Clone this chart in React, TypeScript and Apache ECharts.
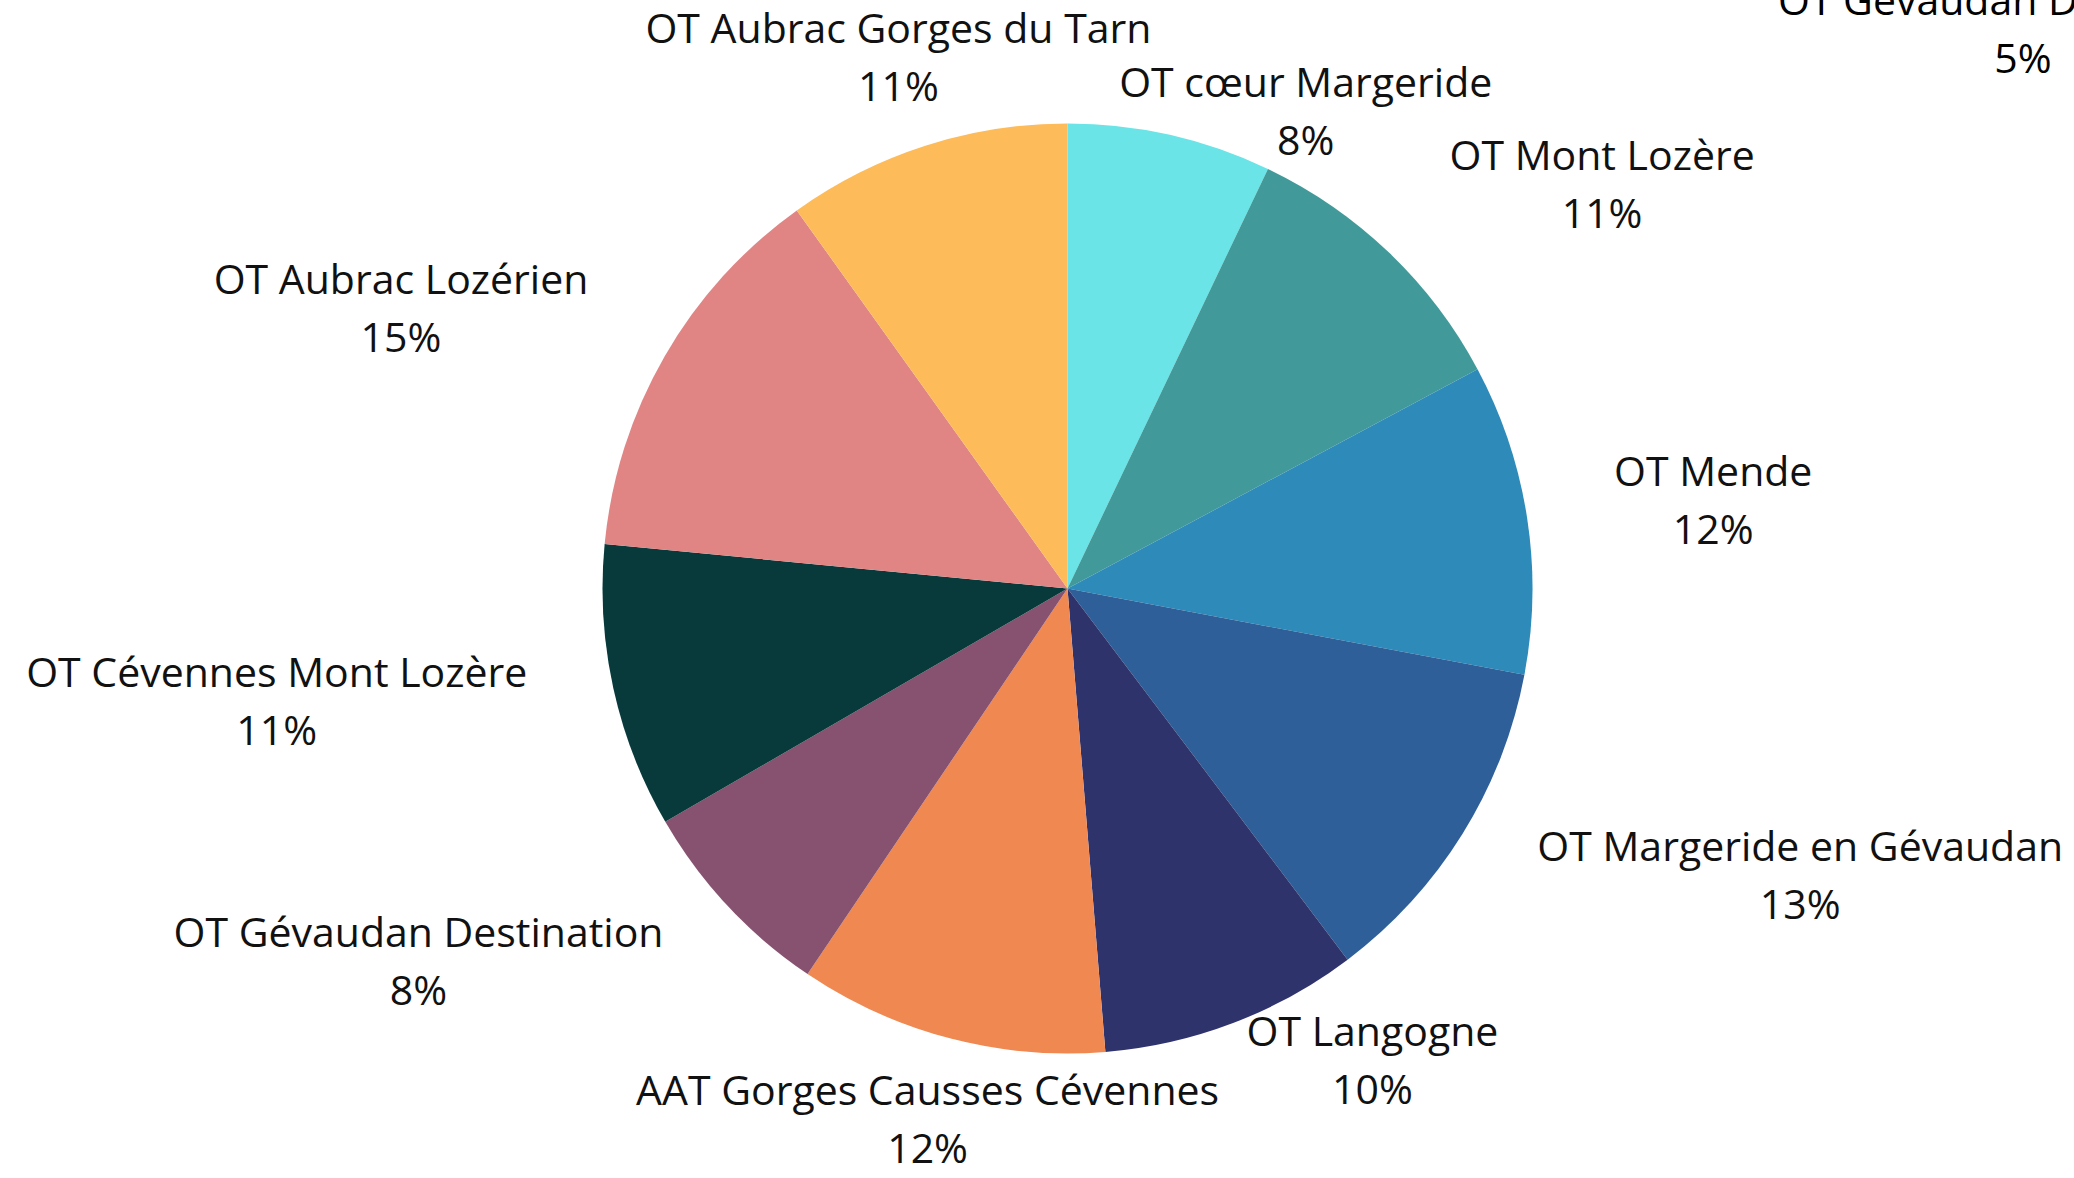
import React, { useEffect, useRef } from 'react';
import * as echarts from 'echarts';

// Slice names (clockwise from 12 o'clock)
const categories = [
  'OT cœur Margeride',
  'OT Mont Lozère',
  'OT Mende',
  'OT Margeride en Gévaudan',
  'OT Langogne',
  'AAT Gorges Causses Cévennes',
  'OT Gévaudan Destination',
  'OT Cévennes Mont Lozère',
  'OT Aubrac Lozérien',
  'OT Aubrac Gorges du Tarn',
];
// Slice shares
const shares = [7.1, 10.1, 10.8, 11.75, 9.0, 10.75, 7.2, 9.9, 13.6, 9.9];
// Percent texts as printed on the chart
const pctLabels = ['8%', '11%', '12%', '13%', '10%', '12%', '8%', '11%', '15%', '11%'];
// Stray label printed in the top-right corner
const extraName = 'OT Gévaudan Destination';
const extraPct = '5%';

const colors = [
  '#6AE4E7',
  '#419A99',
  '#2D8AB9',
  '#2E5F98',
  '#2F336B',
  '#EF8851',
  '#87526F',
  '#083A3C',
  '#E08484',
  '#FDBB5A',
];

const FONT = '"Open Sans", sans-serif';
const FS = 41;
const LH = 58;
const CX = 1067.5;
const CY = 588.5;
const RADIUS = 465;
const LABEL_R = 553;
const LABEL_DY = -6;
const nudges: Record<number, [number, number]> = { 0: [116, 67], 4: [108, -40] };

const rich = {
  n: { fontFamily: FONT, fontSize: FS, lineHeight: LH, color: '#111', align: 'center' },
  p: { fontFamily: FONT, fontSize: FS, lineHeight: LH, color: '#111', align: 'center' },
};

export default function App() {
  const ref = useRef<HTMLDivElement>(null);
  useEffect(() => {
    if (!ref.current) return;
    const chart = echarts.init(ref.current, undefined, { renderer: 'svg' });
    const total = shares.reduce((a, b) => a + b, 0);
    const data = categories.map((name, i) => ({
      name,
      value: shares[i],
      itemStyle: { color: colors[i] },
    }));
    chart.setOption({
      animation: false,
      backgroundColor: '#ffffff',
      graphic: [
        {
          type: 'text',
          x: 2023,
          y: 28,
          style: {
            text: `{n|${extraName}}\n{p|${extraPct}}`,
            rich,
            align: 'center',
            verticalAlign: 'middle',
          },
        },
      ],
      series: [
        {
          type: 'pie',
          center: [CX, CY],
          radius: RADIUS,
          startAngle: 90,
          clockwise: true,
          avoidLabelOverlap: false,
          data,
          label: {
            show: true,
            position: 'outside',
            formatter: (p: any) => `{n|${p.name}}\n{p|${pctLabels[p.dataIndex]}}`,
            rich,
          },
          labelLine: { show: false },
          emphasis: { disabled: true },
          labelLayout: (p: any) => {
            const i = p.dataIndex;
            let cum = 0;
            for (let k = 0; k < i; k++) cum += shares[k];
            const mid = ((cum + shares[i] / 2) / total) * Math.PI * 2;
            const dx = Math.sin(mid);
            const dy = -Math.cos(mid);
            let x = CX + LABEL_R * dx;
            let y = CY + LABEL_R * dy + LABEL_DY;
            let align = 'center';
            if (Math.abs(dx) >= 0.5) align = dx > 0 ? 'left' : 'right';
            const n = nudges[i];
            if (n) {
              x += n[0];
              y += n[1];
            }
            return { x, y, align, verticalAlign: 'middle' };
          },
        },
      ],
    });
    return () => chart.dispose();
  }, []);
  return (
    <div
      ref={ref}
      style={{ position: 'fixed', left: 0, top: 0, width: 2074, height: 1178, background: '#fff' }}
    />
  );
}
